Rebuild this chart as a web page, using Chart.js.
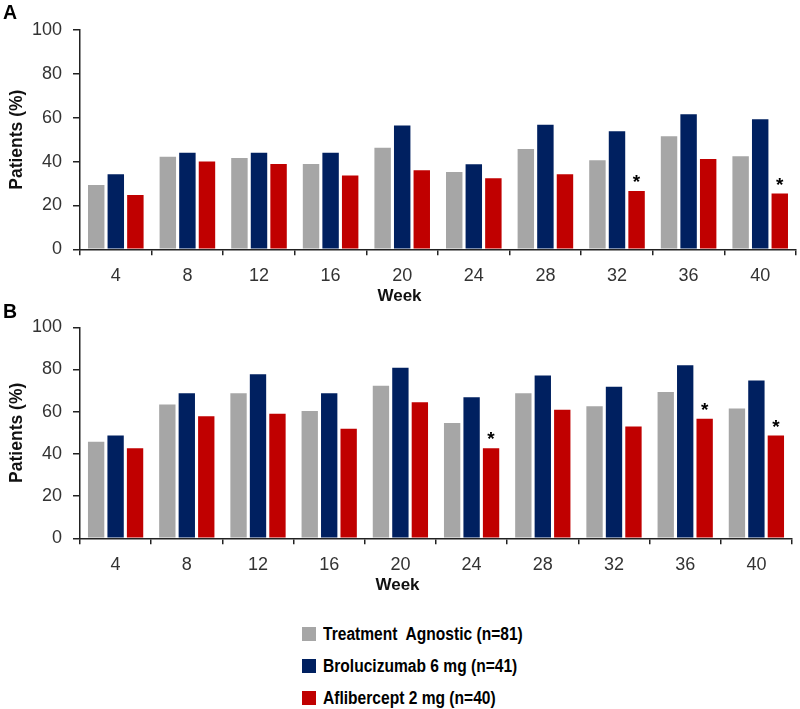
<!DOCTYPE html>
<html>
<head>
<meta charset="utf-8">
<script src="https://cdn.jsdelivr.net/npm/chart.js@4/dist/chart.umd.min.js"></script>
<style>
  body { margin: 0; background: #fff; }
  #wrap { position: relative; width: 800px; height: 709px; }
  canvas { position: absolute; left: 0; }
  #chartA { top: 0; }
  #chartB { top: 300px; }
  #legend { position: absolute; left: 302px; top: 618px; font: bold 17.5px "Liberation Sans", Arial, sans-serif; color: #000; }
  .row { display: flex; align-items: center; height: 32px; }
  .box { width: 14px; height: 14px; margin-right: 7px; flex: none; }
  .txt { white-space: pre; display: inline-block; transform: scaleX(0.89); transform-origin: left center; }
</style>
</head>
<body>
<div id="wrap">
  <canvas id="chartA" width="800" height="310"></canvas>
  <canvas id="chartB" width="800" height="300"></canvas>
  <div id="legend"></div>
</div>
<script>
// Data
const weeks = ["4", "8", "12", "16", "20", "24", "28", "32", "36", "40"];
const seriesNames = ["Treatment  Agnostic (n=81)", "Brolucizumab 6 mg (n=41)", "Aflibercept 2 mg (n=40)"];
const colors = ["#a6a6a6", "#002060", "#c00000"];

// Panel A
const agnosticA = [29.3, 42.2, 41.6, 38.9, 46.3, 35.2, 45.7, 40.6, 51.5, 42.4];
const brolucizumabA = [34.2, 44, 44, 44, 56.4, 38.8, 56.8, 53.8, 61.6, 59.3];
const afliberceptA = [24.8, 40, 38.9, 33.6, 36, 32.4, 34.2, 26.6, 41.2, 25.4];
const starsA = [false, false, false, false, false, false, false, true, false, true];

// Panel B
const agnosticB = [45.7, 63.4, 68.7, 60.3, 72.3, 54.7, 68.7, 62.6, 69.3, 61.5];
const brolucizumabB = [48.7, 68.7, 77.8, 68.7, 80.8, 66.9, 77.2, 71.8, 82, 74.8];
const afliberceptB = [42.7, 57.8, 59, 51.9, 64.5, 42.7, 60.9, 53, 56.6, 48.7];
const starsB = [false, false, false, false, false, true, false, false, true, true];

const sans = "'Liberation Sans', Arial, sans-serif";

// draws * above the flagged aflibercept bars
const starPlugin = {
  id: "stars",
  afterDatasetsDraw(chart, args, opts) {
    const ctx = chart.ctx;
    const meta = chart.getDatasetMeta(2);
    ctx.save();
    ctx.fillStyle = "#000";
    ctx.font = "bold 19px " + sans;
    ctx.textAlign = "center";
    ctx.textBaseline = "alphabetic";
    opts.flags.forEach((f, i) => {
      if (!f) return;
      const bar = meta.data[i];
      ctx.fillText("*", bar.x, bar.y - 3);
    });
    ctx.restore();
  }
};

function makeChart(id, letter, a, b, c, flags, sub, pad) {
  new Chart(document.getElementById(id), {
    type: "bar",
    data: {
      labels: weeks,
      datasets: [a, b, c].map((d, i) => ({
        label: seriesNames[i],
        data: d,
        backgroundColor: colors[i],
        borderWidth: 0,
        categoryPercentage: 0.82,
        barPercentage: 0.84
      }))
    },
    plugins: [starPlugin],
    options: {
      responsive: false,
      animation: false,
      layout: { padding: pad },
      plugins: {
        legend: { display: false },
        tooltip: { enabled: false },
        stars: { flags: flags },
        subtitle: {
          display: true,
          text: letter,
          position: "top",
          align: "start",
          color: "#000",
          font: { family: sans, size: 19.5, weight: "bold", lineHeight: 1.2 },
          padding: sub
        },
        title: {
          display: true,
          text: "Week",
          position: "bottom",
          color: "#111",
          font: { family: sans, size: 17, weight: "bold", lineHeight: 1.2 },
          padding: 0
        }
      },
      scales: {
        x: {
          afterFit: s => { s.height = 36.5; },
          border: { color: "#222", width: 1.5 },
          grid: { drawOnChartArea: false, drawTicks: true, tickLength: 6, color: "#222", lineWidth: 1.5, offset: true },
          ticks: { color: "#333", padding: 9.5, font: { family: sans, size: 18 } }
        },
        y: {
          min: 0,
          max: 100,
          afterFit: s => { s.width = 77; },
          border: { color: "#222", width: 1.5 },
          grid: { drawOnChartArea: false, drawTicks: true, tickLength: 7, color: "#222", lineWidth: 1.5 },
          ticks: { stepSize: 20, color: "#333", padding: 11, font: { family: sans, size: 18 } },
          title: {
            display: true,
            text: "Patients (%)",
            color: "#111",
            font: { family: sans, size: 17.5, weight: "bold", lineHeight: 1.2 },
            padding: { top: 4, bottom: 0 }
          }
        }
      }
    }
  });
}

makeChart("chartA", "A", agnosticA, brolucizumabA, afliberceptA, starsA,
  { top: 2, bottom: 4.6 }, { left: 3, right: 4, top: 0, bottom: 3.8 });
makeChart("chartB", "B", agnosticB, brolucizumabB, afliberceptB, starsB,
  { top: 0.8, bottom: 3.1 }, { left: 3, right: 8, top: 0, bottom: 4.8 });

// legend
const legend = document.getElementById("legend");
seriesNames.forEach((name, i) => {
  const row = document.createElement("div");
  row.className = "row";
  const box = document.createElement("span");
  box.className = "box";
  box.style.background = colors[i];
  const txt = document.createElement("span");
  txt.className = "txt";
  txt.textContent = name;
  row.appendChild(box);
  row.appendChild(txt);
  legend.appendChild(row);
});
</script>
</body>
</html>
